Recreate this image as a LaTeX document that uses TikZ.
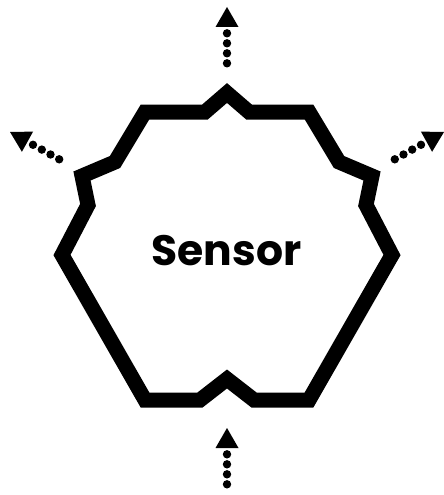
\documentclass[tikz,border=0pt]{standalone}
\usepackage{fontspec}
\newfontfamily\labelfont{Poppins}[UprightFont=* Bold]
\begin{document}
\begin{tikzpicture}[x=1pt,y=-1pt,
  outline/.style={line width=15pt,line join=miter,miter limit=10},
  tipshape/.style={fill=black},
  dotshape/.style={fill=black}]
\useasboundingbox (0,0) rectangle (444,495);
% sensor outline
\draw[outline] (145,112) -- (205,112) -- (227,93) -- (249,112) -- (309,112)
  -- (339,162) -- (372,176) -- (366,205) -- (392,255) -- (309,400)
  -- (254,400) -- (227,379) -- (200,400) -- (145,400) -- (62,255)
  -- (88,205) -- (82,176) -- (115,162) -- cycle;
\node[font=\labelfont\fontsize{42.5}{48}\selectfont,anchor=base,inner sep=0pt] (label) at (226.5,265) {Sensor};
% top arrow
\fill[tipshape] (227,7) -- (215.5,27) -- (238.5,27) -- cycle;
\foreach \y in {33.3,43.3,53.3,63.3} \fill[dotshape] (227,\y) circle (4.2);
% bottom arrow
\fill[tipshape] (227,428) -- (215.5,448) -- (238.5,448) -- cycle;
\foreach \y in {454.3,464.3,474.3,484.3} \fill[dotshape] (227,\y) circle (4.2);
% left arrow
\fill[tipshape] (10,132) -- (33.1,131.6) -- (21.9,151.8) -- cycle;
\foreach \x/\y in {33.0/144.8,41.8/149.6,50.5/154.5,59.2/159.3} \fill[dotshape] (\x,\y) circle (4.2);
% right arrow
\fill[tipshape] (444,132) -- (420.9,131.6) -- (432.1,151.8) -- cycle;
\foreach \x/\y in {421.0/144.8,412.2/149.6,403.5/154.5,394.8/159.3} \fill[dotshape] (\x,\y) circle (4.2);
\end{tikzpicture}
\end{document}
